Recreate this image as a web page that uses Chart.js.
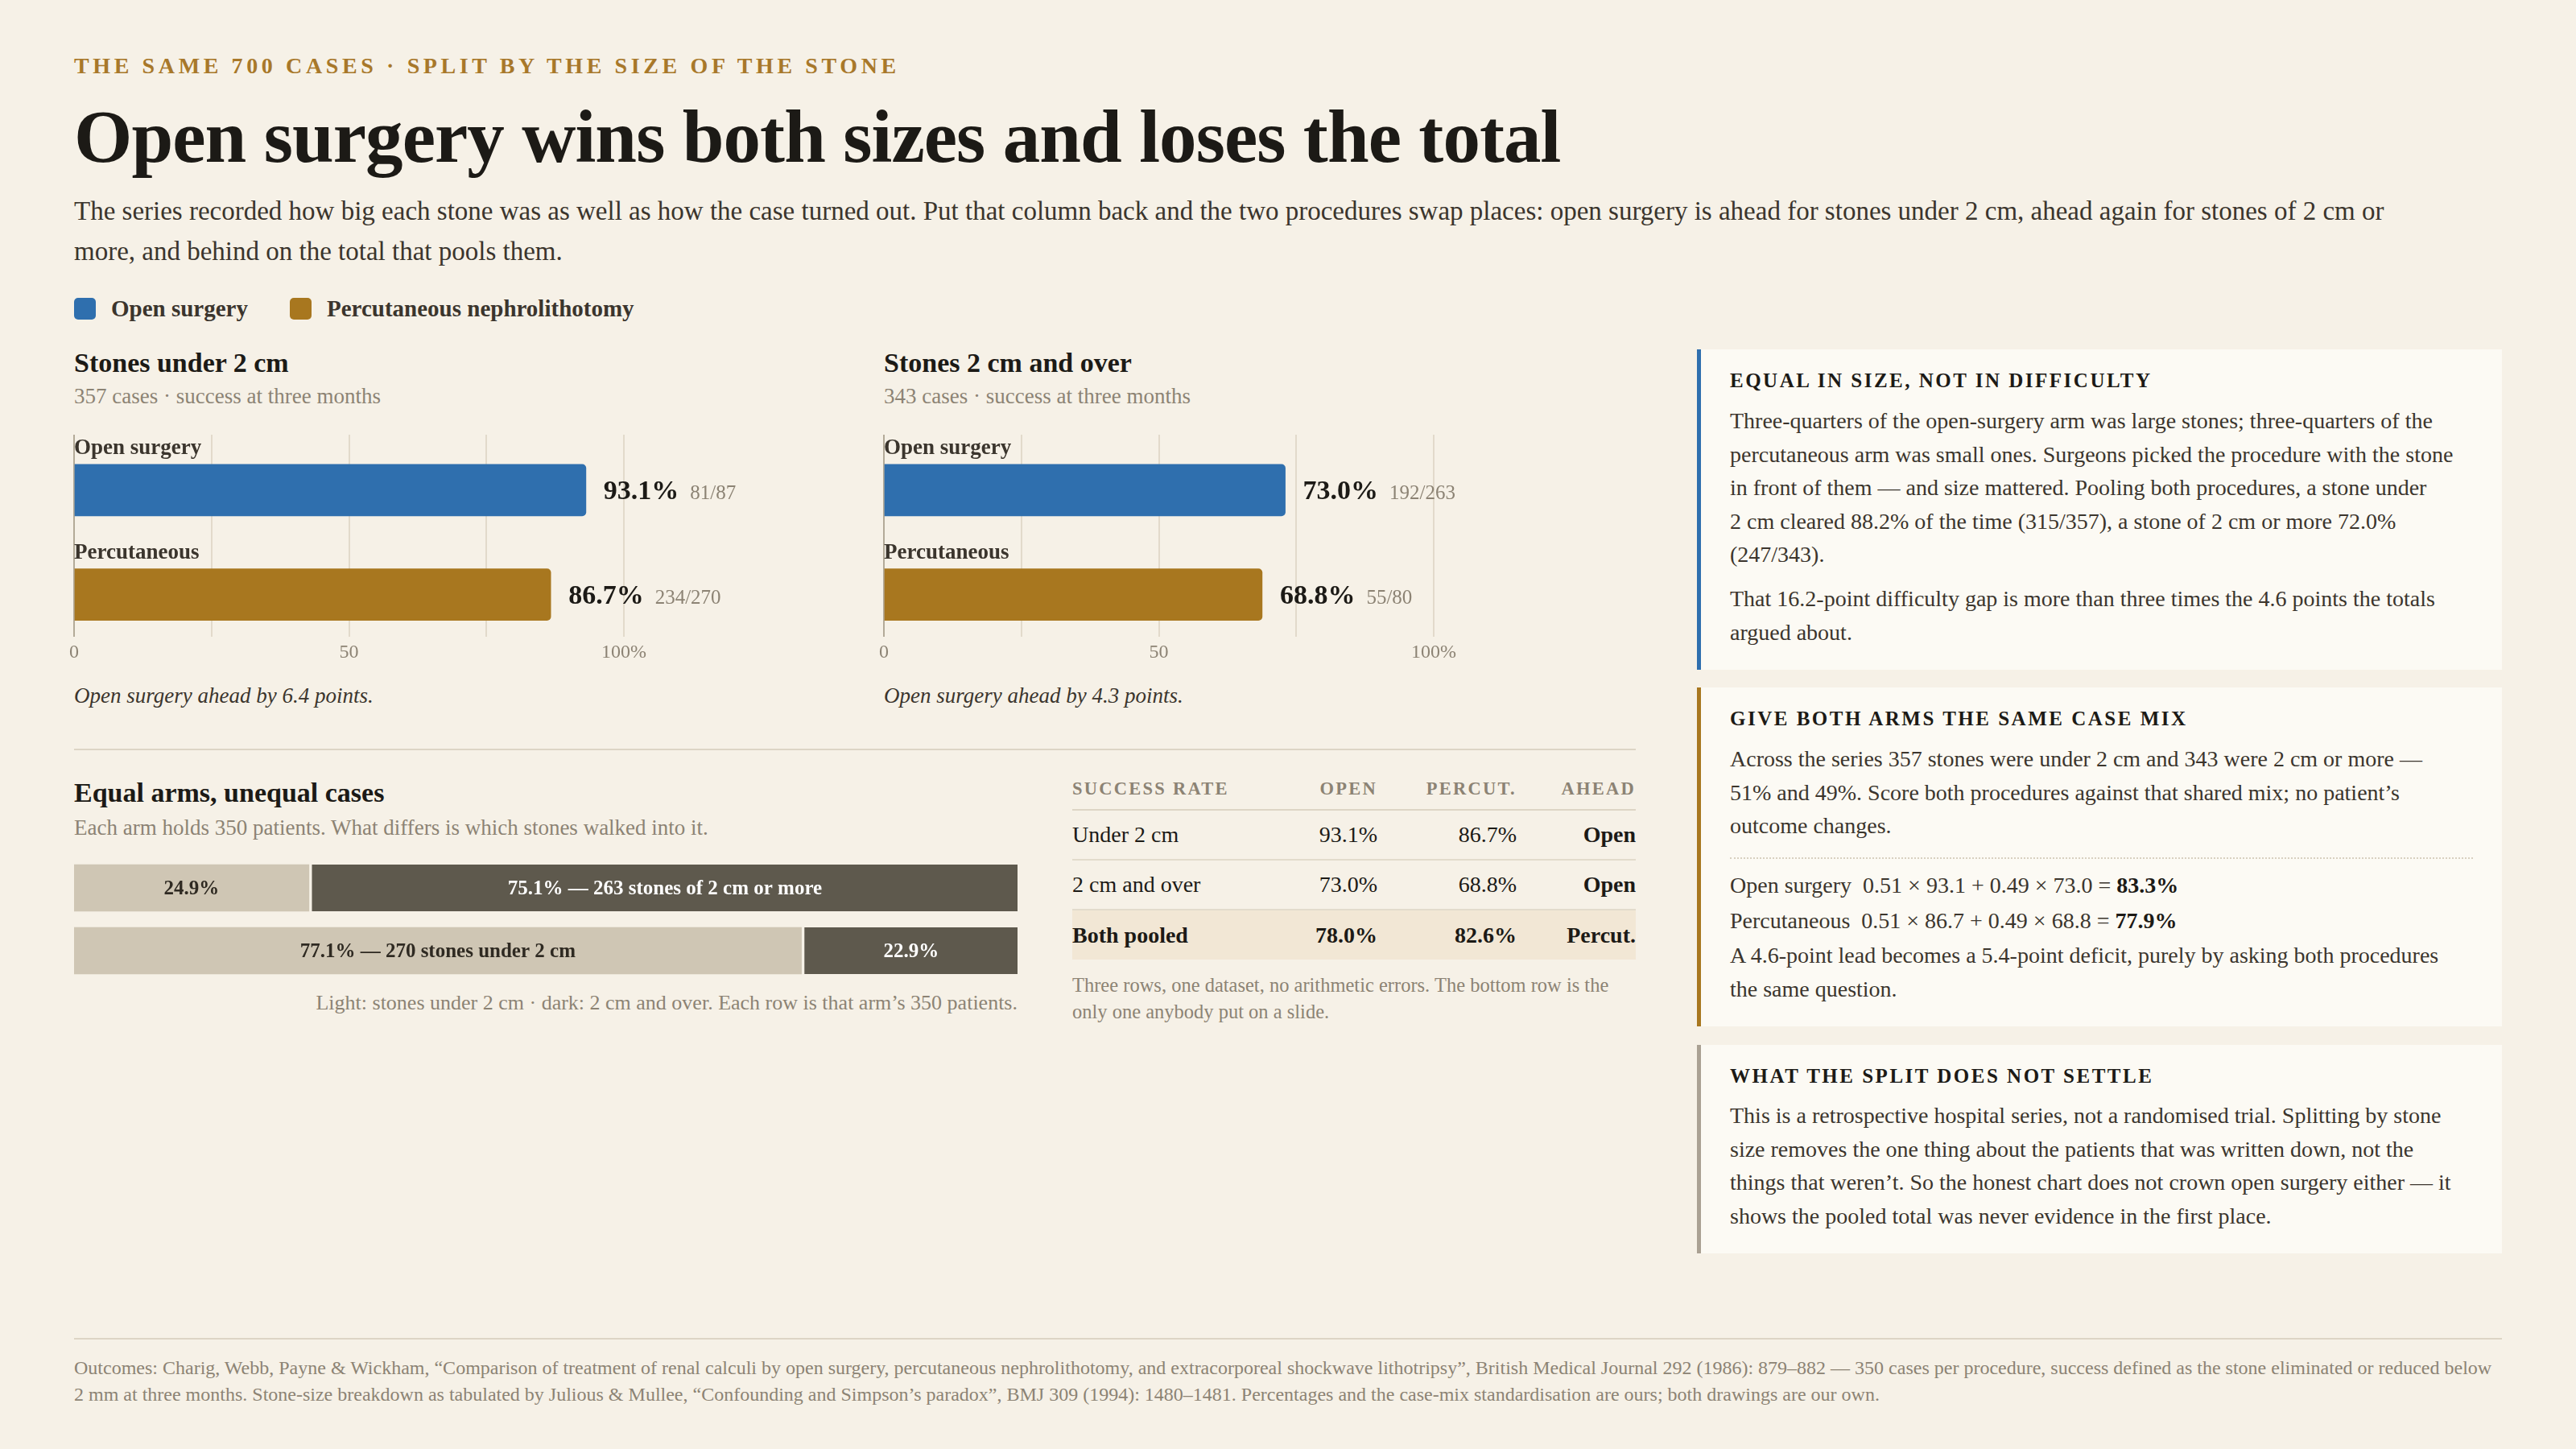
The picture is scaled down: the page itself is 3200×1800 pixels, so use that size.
<!DOCTYPE html>
<html lang="en">
<head>
<meta charset="UTF-8" />
<title>Open surgery wins both sizes and loses the total</title>
<script src="https://cdn.jsdelivr.net/npm/chart.js"></script>
<style>
  html, body { margin: 0; padding: 0; }
  body {
    width: 3200px; height: 1800px; position: relative; overflow: hidden;
    background: #f6f1e7; color: #3b352d;
    font-family: "Liberation Serif", "DejaVu Serif", serif;
  }
  .abs { position: absolute; }
  .kicker { left: 92px; top: 67px; font-size: 28px; line-height: 30px; font-weight: 700; letter-spacing: 0.165em; color: #a8782a; white-space: nowrap; }
  .title { left: 92px; top: 120px; font-size: 93px; line-height: 100px; font-weight: 700; color: #1c1a16; letter-spacing: -0.01em; white-space: nowrap; }
  .lede { left: 92px; top: 237px; width: 2910px; font-size: 33px; line-height: 50px; }
  .key { top: 370px; height: 27px; line-height: 27px; font-size: 29px; font-weight: 700; white-space: nowrap; }
  .key i { display: inline-block; width: 27px; height: 27px; border-radius: 5px; vertical-align: top; margin-right: 19px; }
  .h2 { font-size: 34px; line-height: 36px; font-weight: 700; color: #1c1a16; white-space: nowrap; }
  .sub { font-size: 27px; line-height: 30px; color: #8c8374; white-space: nowrap; }
  .cap { font-size: 27px; line-height: 32px; font-style: italic; white-space: nowrap; }
  .rule { height: 2px; background: #ddd5c5; }
  .row { left: 1332px; width: 700px; display: grid; grid-template-columns: 260px 119px 173px 148px; box-sizing: border-box; font-size: 28px; color: #1c1a16; }
  .row div { text-align: right; white-space: nowrap; }
  .row div:first-child { text-align: left; }
  .row.head { font-size: 22.5px; font-weight: 700; letter-spacing: 0.1em; color: #8c8374; border-bottom: 2px solid #ddd5c5; }
  .row.line { border-bottom: 2px solid #e2dbcc; }
  .row.pool { background: #f2e7d5; font-weight: 700; }
  .row .ahead { font-weight: 700; }
  .tnote { left: 1332px; top: 1207px; width: 700px; font-size: 24.5px; line-height: 33px; color: #8c8374; }
  .note { left: 2108px; width: 1000px; box-sizing: border-box; background: #fcfaf4; border-left: 5px solid #2f6fae; padding: 24px 47px 0 36px; }
  .note h3 { margin: 0; font-size: 25px; line-height: 30px; letter-spacing: 0.1em; font-weight: 700; color: #1c1a16; white-space: nowrap; }
  .note p { margin: 14px 0 0; font-size: 28px; line-height: 41.6px; }
  .note p + p { margin-top: 13px; }
  .note .dots { margin-top: 18px; border-top: 2px dotted #d8d0c0; margin-right: -11px; }
  .note .f { font-size: 28px; line-height: 41.6px; margin-top: 3px; white-space: nowrap; }
  .note .f b { color: #1c1a16; }
  .foot { left: 92px; top: 1683px; width: 3016px; font-size: 24px; line-height: 33px; color: #8c8374; }
</style>
</head>
<body>
  <div class="abs kicker">THE SAME 700 CASES · SPLIT BY THE SIZE OF THE STONE</div>
  <div class="abs title">Open surgery wins both sizes and loses the total</div>
  <div class="abs lede">The series recorded how big each stone was as well as how the case turned out. Put that column back and the two procedures swap places: open surgery is ahead for stones under 2 cm, ahead again for stones of 2 cm or more, and behind on the total that pools them.</div>
  <div class="abs key" style="left:92px"><i style="background:#2f6fae"></i>Open surgery</div>
  <div class="abs key" style="left:360px"><i style="background:#a8771f"></i>Percutaneous nephrolithotomy</div>

  <div class="abs h2" style="left:92px; top:433px">Stones under 2 cm</div>
  <div class="abs sub" style="left:92px; top:477px">357 cases · success at three months</div>
  <canvas id="smallChart" class="abs" style="left:72px; top:540px" width="900" height="292"></canvas>
  <div class="abs cap" style="left:92px; top:848px">Open surgery ahead by 6.4 points.</div>

  <div class="abs h2" style="left:1098px; top:433px">Stones 2 cm and over</div>
  <div class="abs sub" style="left:1098px; top:477px">343 cases · success at three months</div>
  <canvas id="largeChart" class="abs" style="left:1078px; top:540px" width="900" height="292"></canvas>
  <div class="abs cap" style="left:1098px; top:848px">Open surgery ahead by 4.3 points.</div>

  <div class="abs rule" style="left:92px; top:930px; width:1940px"></div>

  <div class="abs h2" style="left:92px; top:967px">Equal arms, unequal cases</div>
  <div class="abs sub" style="left:92px; top:1013px">Each arm holds 350 patients. What differs is which stones walked into it.</div>
  <canvas id="mixChart" class="abs" style="left:92px; top:1064px" width="1172" height="156"></canvas>
  <div class="abs sub" style="left:92px; top:1231px; width:1172px; text-align:right; font-size:26px">Light: stones under 2 cm · dark: 2 cm and over. Each row is that arm’s 350 patients.</div>

  <div id="table"></div>
  <div class="abs tnote">Three rows, one dataset, no arithmetic errors. The bottom row is the only one anybody put on a slide.</div>

  <div class="abs note" style="top:434px; height:398px">
    <h3>EQUAL IN SIZE, NOT IN DIFFICULTY</h3>
    <p>Three-quarters of the open-surgery arm was large stones; three-quarters of the percutaneous arm was small ones. Surgeons picked the procedure with the stone in front of them — and size mattered. Pooling both procedures, a stone under 2&nbsp;cm cleared 88.2% of the time (315/357), a stone of 2 cm or more 72.0% (247/343).</p>
    <p>That 16.2-point difficulty gap is more than three times the 4.6 points the totals argued about.</p>
  </div>
  <div class="abs note" style="top:854px; height:421px; border-left-color:#a8771f">
    <h3>GIVE BOTH ARMS THE SAME CASE MIX</h3>
    <p>Across the series 357 stones were under 2 cm and 343 were 2 cm or more — 51% and 49%. Score both procedures against that shared mix; no patient’s outcome changes.</p>
    <div class="dots"></div>
    <div class="f" style="margin-top:12px">Open surgery&nbsp; 0.51 × 93.1 + 0.49 × 73.0 = <b>83.3%</b></div>
    <div class="f">Percutaneous&nbsp; 0.51 × 86.7 + 0.49 × 68.8 = <b>77.9%</b></div>
    <p style="margin-top:1px">A 4.6-point lead becomes a 5.4-point deficit, purely by asking both procedures the same question.</p>
  </div>
  <div class="abs note" style="top:1298px; height:259px; border-left-color:#aaa193">
    <h3>WHAT THE SPLIT DOES NOT SETTLE</h3>
    <p style="margin-top:13px">This is a retrospective hospital series, not a randomised trial. Splitting by stone size removes the one thing about the patients that was written down, not the things that weren’t. So the honest chart does not crown open surgery either — it shows the pooled total was never evidence in the first place.</p>
  </div>

  <div class="abs rule" style="left:92px; top:1662px; width:3016px"></div>
  <div class="abs foot">Outcomes: Charig, Webb, Payne &amp; Wickham, “Comparison of treatment of renal calculi by open surgery, percutaneous nephrolithotomy, and extracorporeal shockwave lithotripsy”, British Medical Journal 292 (1986): 879–882 — 350 cases per procedure, success defined as the stone eliminated or reduced below 2 mm at three months. Stone-size breakdown as tabulated by Julious &amp; Mullee, “Confounding and Simpson’s paradox”, BMJ 309 (1994): 1480–1481. Percentages and the case-mix standardisation are ours; both drawings are our own.</div>

  <script>
    // success at three months, per procedure
    const procedures = ["Open surgery", "Percutaneous"]
    const smallRate = [93.1, 86.7]
    const smallCount = ["81/87", "234/270"]
    const largeRate = [73.0, 68.8]
    const largeCount = ["192/263", "55/80"]

    // share of each arm by stone size (percent of 350)
    const arms = ["Open surgery", "Percutaneous"]
    const mixSmall = [24.9, 77.1]
    const mixLarge = [75.1, 22.9]
    const mixSmallText = ["24.9%", "77.1% — 270 stones under 2 cm"]
    const mixLargeText = ["75.1% — 263 stones of 2 cm or more", "22.9%"]

    // table
    const tableHead = ["SUCCESS RATE", "OPEN", "PERCUT.", "AHEAD"]
    const tableRows = ["Under 2 cm", "2 cm and over", "Both pooled"]
    const tableOpen = [93.1, 73.0, 78.0]
    const tablePercut = [86.7, 68.8, 82.6]
    const tableAhead = ["Open", "Open", "Percut."]

    const BLUE = "#2f6fae"
    const GOLD = "#a8771f"
    const LIGHT = "#cfc6b4"
    const DARK = "#5e594d"
    const BG = "#f6f1e7"
    const FONT = "'Liberation Serif', serif"

    Chart.defaults.font.family = FONT
    Chart.defaults.animation = false

    const barLabels = {
      id: "barLabels",
      afterDatasetsDraw(chart, args, opts) {
        const ctx = chart.ctx
        chart.getDatasetMeta(0).data.forEach((bar, i) => {
          const { x, y, height } = bar.getProps(["x", "y", "height"], true)
          ctx.save()
          ctx.textAlign = "left"
          ctx.textBaseline = "alphabetic"
          ctx.fillStyle = "#3b352d"
          ctx.font = "700 27px " + FONT
          ctx.fillText(opts.names[i], chart.chartArea.left, y - height / 2 - 13)
          const v = opts.values[i].toFixed(1) + "%"
          ctx.fillStyle = "#1c1a16"
          ctx.font = "700 34px " + FONT
          ctx.fillText(v, x + 22, y + 11)
          const w = ctx.measureText(v).width
          ctx.fillStyle = "#8c8374"
          ctx.font = "400 25px " + FONT
          ctx.fillText(opts.counts[i], x + 22 + w + 14, y + 11)
          ctx.restore()
        })
      },
    }

    function rateChart(id, values, counts) {
      return new Chart(document.getElementById(id), {
        type: "bar",
        data: {
          datasets: [
            {
              data: procedures.map((p, i) => ({ x: values[i], y: i })),
              backgroundColor: [BLUE, GOLD],
              borderRadius: 5,
              barThickness: 64,
            },
          ],
        },
        options: {
          indexAxis: "y",
          responsive: false,
          layout: { padding: { left: 20, right: 197, top: 0, bottom: 2 } },
          plugins: {
            legend: { display: false },
            tooltip: { enabled: false },
            barLabels: { names: procedures, values, counts },
          },
          scales: {
            x: {
              type: "linear",
              min: 0,
              max: 100,
              border: { display: false },
              grid: {
                drawTicks: false,
                lineWidth: 2,
                color: (c) => (c.tick && c.tick.value === 0 ? "#b3aa98" : "#e2dacb"),
              },
              ticks: {
                stepSize: 25,
                padding: 5,
                color: "#8c8374",
                font: { size: 24 },
                maxRotation: 0,
                callback: (v) => (v === 100 ? "100%" : v % 50 === 0 ? String(v) : ""),
              },
            },
            // index axis: one unit per procedure, top to bottom, room above each bar for its label
            y: {
              type: "linear",
              reverse: true,
              offset: false,
              grid: { offset: false },
              min: -0.53,
              max: 1.405,
              display: false,
            },
          },
        },
        plugins: [barLabels],
      })
    }

    rateChart("smallChart", smallRate, smallCount)
    rateChart("largeChart", largeRate, largeCount)

    const segLabels = {
      id: "segLabels",
      afterDatasetsDraw(chart, args, opts) {
        const ctx = chart.ctx
        chart.data.datasets.forEach((ds, di) => {
          chart.getDatasetMeta(di).data.forEach((bar, i) => {
            const { x, y, base } = bar.getProps(["x", "y", "base"], true)
            ctx.save()
            ctx.font = "700 25px " + FONT
            ctx.textAlign = "center"
            ctx.textBaseline = "alphabetic"
            ctx.fillStyle = opts.colors[di]
            ctx.fillText(opts.texts[di][i], (x + base) / 2 + (di === 1 ? 2 : 0), y + 8)
            ctx.restore()
          })
        })
      },
    }

    new Chart(document.getElementById("mixChart"), {
      type: "bar",
      data: {
        labels: arms,
        datasets: [
          { label: "under 2 cm", data: mixSmall, backgroundColor: LIGHT, barThickness: 58 },
          {
            label: "2 cm and over",
            data: mixLarge,
            backgroundColor: DARK,
            barThickness: 58,
            borderColor: BG,
            borderSkipped: false,
            borderWidth: { left: 4, right: 0, top: 0, bottom: 0 },
          },
        ],
      },
      options: {
        indexAxis: "y",
        responsive: false,
        layout: { padding: 0 },
        plugins: {
          legend: { display: false },
          tooltip: { enabled: false },
          segLabels: { texts: [mixSmallText, mixLargeText], colors: ["#2f2a22", "#ffffff"] },
        },
        scales: {
          x: { stacked: true, min: 0, max: 100, display: false },
          y: { stacked: true, display: false },
        },
      },
      plugins: [segLabels],
    })

    // success-rate table
    const fmt = (v) => v.toFixed(1) + "%"
    let html = '<div class="abs row head" style="top:955px;height:52px;line-height:50px">' +
      tableHead.map((h) => "<div>" + h + "</div>").join("") + "</div>"
    const tops = [1007, 1069, 1131]
    tableRows.forEach((r, i) => {
      const last = i === tableRows.length - 1
      const cls = last ? "pool" : "line"
      const h = last ? 61 : 62
      const lh = last ? 61 : 60
      html += '<div class="abs row ' + cls + '" style="top:' + tops[i] + "px;height:" + h + "px;line-height:" + lh + 'px">' +
        "<div>" + r + "</div><div>" + fmt(tableOpen[i]) + "</div><div>" + fmt(tablePercut[i]) +
        '</div><div class="ahead">' + tableAhead[i] + "</div></div>"
    })
    document.getElementById("table").innerHTML = html
  </script>
</body>
</html>
